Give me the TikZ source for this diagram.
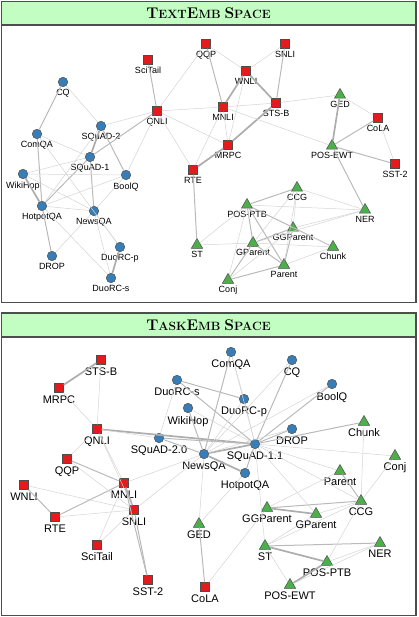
\documentclass[tikz,border=0pt]{standalone}
\usepackage{fontspec}
\setsansfont{Liberation Sans}
\usetikzlibrary{shapes.geometric}
\definecolor{cblue}{HTML}{377EB8}
\definecolor{cred}{HTML}{E41A1C}
\definecolor{cgreen}{HTML}{4DAF4A}
\definecolor{cframe}{HTML}{4D4D4D}
\definecolor{ctitle}{HTML}{C2FDC2}
\newcommand{\tcap}[1]{{\fontsize{15.5}{16}\selectfont #1}}
\newcommand{\tsml}[1]{{\fontsize{12}{13}\selectfont #1}}
\tikzset{
  lbl/.style={font=\sffamily\fontsize{9}{9}\selectfont, inner sep=1pt},
  biglbl/.style={font=\sffamily\fontsize{11}{11}\selectfont, inner sep=1pt, label distance=2pt},
  qa/.style={circle, draw=black!70, fill=cblue, line width=0.5pt, minimum size=9.5pt, inner sep=0pt},
  cls/.style={rectangle, draw=black!70, fill=cred, line width=0.5pt, minimum size=9pt, inner sep=0pt},
  seq/.style={regular polygon, regular polygon sides=3, draw=black!70, fill=cgreen, line width=0.5pt, minimum size=13pt, inner sep=0pt},
  weak/.style={draw=black!17, line width=0.5pt},
  medium/.style={draw=black!27, line width=1pt},
  strong/.style={draw=black!32, line width=1.7pt},
  panel/.style={draw=cframe, line width=1.3pt},
  titlebar/.style={draw=cframe, fill=ctitle, line width=1.3pt},
}

\begin{document}
\begin{tikzpicture}[x=1pt, y=-1pt, label distance=1.5pt]
  \useasboundingbox (0,0) rectangle (419,617);
  % TextEmb panel
  \draw[titlebar] (1.5,1.5) rectangle (416,25);
  \draw[panel] (1.5,25) rectangle (416,302.5);
  \node (ttitle) at (208.5,13.5) {\bfseries\tcap{T}\tsml{EXT}\tcap{E}\tsml{MB} \tcap{S}\tsml{PACE}};
  \foreach \n/\s/\x/\y/\t in {
    CQ/qa/63/82/CQ, ComQA/qa/37/134/ComQA, SQuADtwo/qa/101/126/SQuAD-2, SQuADone/qa/90/157/SQuAD-1,
    WikiHop/qa/23/174/WikiHop, BoolQ/qa/126/175/BoolQ, HotpotQA/qa/42/206/HotpotQA, NewsQA/qa/94/211/NewsQA,
    DuoRCp/qa/120/247/DuoRC-p, DROP/qa/52/256/DROP, DuoRCs/qa/111/278/DuoRC-s,
    SciTail/cls/148/60/SciTail, QNLI/cls/157/111/QNLI, QQP/cls/206/44/QQP, SNLI/cls/285/44/SNLI,
    WNLI/cls/246/71/WNLI, MNLI/cls/223/107/MNLI, STSB/cls/276/103/STS-B, MRPC/cls/228/145/MRPC,
    RTE/cls/193/170/RTE, CoLA/cls/378/118/CoLA, SSTtwo/cls/395/164/SST-2,
    GED/seq/340/95/GED, POSEWT/seq/332/146/POS-EWT, CCG/seq/297/188/CCG, POSPTB/seq/247/205/POS-PTB,
    NER/seq/365/210/NER, GGParent/seq/293/228/GGParent, GParent/seq/253/243/GParent, Chunk/seq/333/247/Chunk,
    Parent/seq/284/265/Parent, Conj/seq/228/280/Conj, ST/seq/197/245/ST} {
    \node[\s, label={[lbl]below:\t}] (t\n) at (\x,\y) {};
  }
  \foreach \a/\b in {SQuADone/SQuADtwo, WikiHop/HotpotQA, DuoRCp/DuoRCs, WNLI/MNLI, WNLI/STSB,
    STSB/MRPC, MRPC/RTE, GED/POSEWT}
    \draw[strong] (t\a) -- (t\b);
  \foreach \a/\b in {CQ/ComQA, ComQA/HotpotQA, SQuADtwo/BoolQ, SQuADone/NewsQA, SQuADone/QNLI,
    HotpotQA/DROP, HotpotQA/SQuADone, SciTail/QNLI, QQP/MNLI, SNLI/STSB, RTE/ST, POSEWT/CoLA,
    POSEWT/SSTtwo, POSEWT/NER, POSPTB/CCG, POSPTB/GParent, POSPTB/Parent, POSPTB/Chunk,
    GGParent/GParent, GGParent/Parent, GParent/Parent, GParent/Conj, Parent/Conj}
    \draw[medium] (t\a) -- (t\b);
  \foreach \a/\b in {CQ/SQuADtwo, ComQA/SQuADone, ComQA/DuoRCp, WikiHop/SQuADone, WikiHop/BoolQ,
    WikiHop/NewsQA, HotpotQA/BoolQ, HotpotQA/NewsQA, HotpotQA/SQuADtwo, HotpotQA/DuoRCs,
    NewsQA/DuoRCp, NewsQA/DuoRCs, NewsQA/DROP, NewsQA/BoolQ, BoolQ/QNLI, SQuADtwo/QNLI,
    QNLI/QQP, QNLI/MNLI, QNLI/RTE, QNLI/MRPC, QQP/WNLI, SNLI/WNLI, MNLI/STSB, MNLI/MRPC,
    WNLI/MRPC, MNLI/RTE, MNLI/POSEWT, STSB/GED, GED/CoLA, CoLA/SSTtwo, CCG/NER, CCG/GGParent,
    CCG/GParent, CCG/Parent, POSPTB/Conj, POSPTB/NER, GGParent/Chunk, GGParent/NER, GGParent/Conj,
    GParent/Chunk, Parent/Chunk, GParent/NER, ST/POSPTB, ST/GParent}
    \draw[weak] (t\a) -- (t\b);
  % TaskEmb panel
  \draw[titlebar] (1.5,313) rectangle (416,337);
  \draw[panel] (1.5,337) rectangle (416,615.5);
  \node (btitle) at (208.5,325.5) {\bfseries\tcap{T}\tsml{ASK}\tcap{E}\tsml{MB} \tcap{S}\tsml{PACE}};
  \foreach \n/\s/\x/\y/\t in {
    STSB/cls/101/360/STS-B, MRPC/cls/59/388/MRPC, QNLI/cls/97/429/QNLI, QQP/cls/67/459/QQP,
    WNLI/cls/24/485/WNLI, MNLI/cls/124/483/MNLI, SNLI/cls/134/510/SNLI, RTE/cls/55/517/RTE,
    SciTail/cls/97/545/SciTail, SSTtwo/cls/148/580/SST-2, CoLA/cls/205/587/CoLA, GED/seq/199/524/GED,
    ComQA/qa/231/352/ComQA, CQ/qa/292/360/CQ, BoolQ/qa/332/384/BoolQ, DuoRCs/qa/177/380/DuoRC-s,
    DuoRCp/qa/244/399/DuoRC-p, WikiHop/qa/188/408/WikiHop, DROP/qa/292/429/DROP,
    SQuADtwo/qa/159/438/SQuAD-2.0, SQuADone/qa/255/444/SQuAD-1.1, NewsQA/qa/204/454/NewsQA,
    HotpotQA/qa/245/473/HotpotQA, Chunk/seq/364/422/Chunk, Conj/seq/395/456/Conj,
    Parent/seq/340/471/Parent, CCG/seq/361/501/CCG, GGParent/seq/267/508/GGParent,
    GParent/seq/316/514/GParent, ST/seq/265/546/ST, NER/seq/380/543/NER,
    POSPTB/seq/327/562/POS-PTB, POSEWT/seq/290/585/POS-EWT} {
    \node[\s, label={[biglbl]below:\t}] (b\n) at (\x,\y) {};
  }
  \foreach \a/\b in {STSB/MRPC, MNLI/SNLI, NewsQA/SQuADone, NewsQA/HotpotQA, GGParent/GParent,
    ST/POSPTB, POSPTB/POSEWT, QNLI/SQuADone}
    \draw[strong] (b\a) -- (b\b);
  \foreach \a/\b in {QQP/MNLI, WNLI/RTE, RTE/MNLI, MNLI/SSTtwo, SNLI/SSTtwo, GED/CoLA,
    ComQA/NewsQA, CQ/SQuADone, DuoRCs/DuoRCp, DuoRCs/SQuADone, WikiHop/NewsQA, BoolQ/SQuADone,
    DROP/SQuADone, SQuADtwo/NewsQA, SQuADone/HotpotQA, SQuADone/Chunk, Parent/CCG, GGParent/CCG,
    ST/NER, SQuADtwo/SQuADone}
    \draw[medium] (b\a) -- (b\b);
  \foreach \a/\b in {STSB/QNLI, MRPC/QNLI, QNLI/QQP, QNLI/MNLI, QNLI/SNLI, QNLI/SQuADtwo, QQP/SNLI,
    WNLI/SNLI, RTE/SNLI, MNLI/SciTail, SNLI/SciTail, MNLI/NewsQA, SNLI/NewsQA, GED/NewsQA,
    GED/HotpotQA, CoLA/GGParent, ComQA/DuoRCp, ComQA/SQuADone, CQ/NewsQA, DuoRCs/SQuADtwo,
    WikiHop/SQuADone, DuoRCp/SQuADone, DuoRCp/NewsQA, BoolQ/NewsQA, DROP/NewsQA, SQuADone/Conj,
    SQuADone/Parent, SQuADone/CCG, SQuADone/GParent, SQuADone/ST, Chunk/CCG, Conj/CCG, GParent/CCG,
    GGParent/Parent, ST/POSEWT, ST/GParent, ST/CCG, POSPTB/NER, POSEWT/NER, POSPTB/CCG}
    \draw[weak] (b\a) -- (b\b);
\end{tikzpicture}
\end{document}
